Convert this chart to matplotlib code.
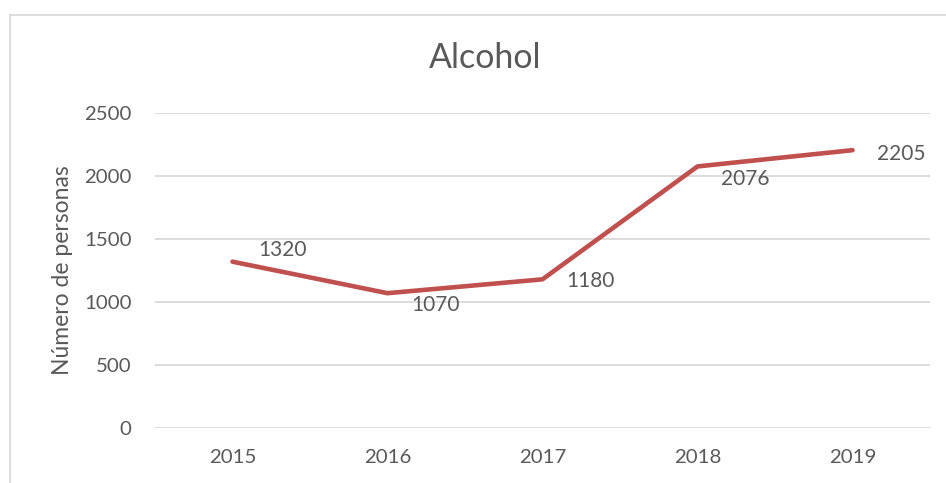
import matplotlib.pyplot as plt
from matplotlib.lines import Line2D

# data
years = ['2015', '2016', '2017', '2018', '2019']
personas = [1320, 1070, 1180, 2076, 2205]
yticks = [0, 500, 1000, 1500, 2000, 2500]

# label offsets in pixels (dx, dy) relative to each point
label_offsets = [(26, 12), (24, -12), (24, -2), (23, -13), (24, -4)]

txt = '#595959'
grid = '#D9D9D9'
red = '#C0504D'

plt.rcParams['font.family'] = ['Lato', 'DejaVu Sans']

fig = plt.figure(figsize=(9.46, 4.83), dpi=100)
ax = fig.add_axes([155/946, 1-428/483, (930-155)/946, (428-113)/483])

x = list(range(len(years)))
ax.plot(x, personas, color=red, linewidth=3.3, solid_capstyle='round', solid_joinstyle='round', zorder=3)

for i, v in enumerate(personas):
    dx, dy = label_offsets[i]
    ax.annotate(str(v), (x[i], v), xytext=(dx, dy), textcoords='offset pixels',
                ha='left', va='center', fontsize=15, color=txt)

ax.set_xlim(-0.5, len(years) - 0.5)
ax.set_ylim(0, 2500)
ax.set_xticks(x)
ax.set_xticklabels(years)
ax.set_yticks(yticks)
ax.tick_params(axis='both', length=0, labelsize=14.7, colors=txt)
ax.tick_params(axis='y', pad=17)
ax.tick_params(axis='x', pad=15)
ax.grid(axis='y', color=grid, linewidth=1.3)
ax.set_axisbelow(True)
for s in ax.spines.values():
    s.set_visible(False)

ax.set_ylabel('Número de personas', fontsize=16.5, color=txt)
ax.yaxis.set_label_coords(-(155-73)/775, 0.5)

fig.text(485/946, 1-58/483, 'Alcohol', ha='center', va='center', fontsize=24.5, color=txt)

# chart border (top and left edges visible)
bx = 10/946
by = 1-15/483
fig.add_artist(Line2D([bx, 1], [by, by], transform=fig.transFigure, color=grid, linewidth=1.3))
fig.add_artist(Line2D([bx, bx], [0, by], transform=fig.transFigure, color=grid, linewidth=1.3))

fig.savefig('out.png', dpi=100)
